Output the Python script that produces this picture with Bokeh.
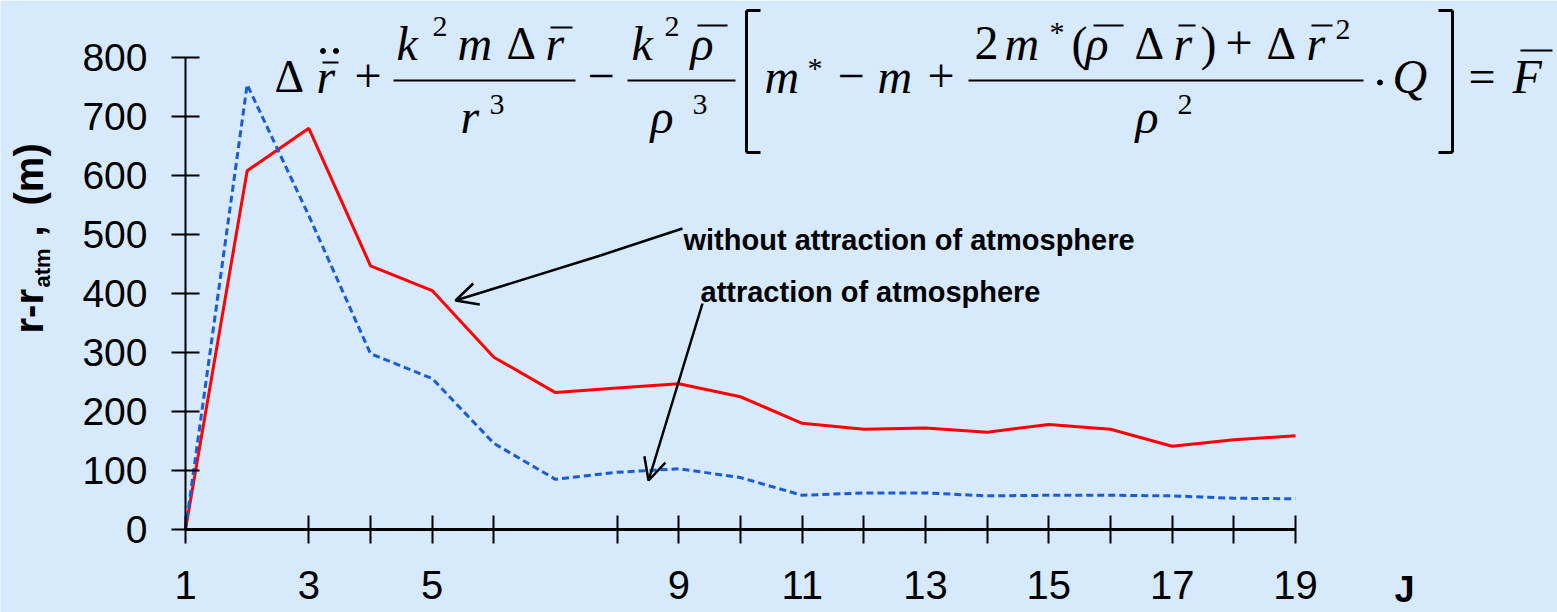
import math
from bokeh.plotting import figure
from bokeh.models import Range1d, FixedTicker, Arrow, OpenHead
from bokeh.core.properties import value
from bokeh.embed import file_html
from bokeh.resources import INLINE

# ---------------- data ----------------
J = list(range(1, 20))
without_attraction = [0, 608, 680, 447, 405, 292, 232, 240, 247, 225, 180, 170, 172, 165, 178, 170, 141, 152, 159]
with_attraction = [0, 754, 532, 298, 256, 146, 85, 97, 103, 88, 58, 62, 62, 57, 58, 58, 57, 53, 52]
x_ticks = [1, 3, 4, 5, 6, 8, 9, 10, 11, 12, 13, 14, 15, 16, 17, 18, 19]
x_tick_labels = {t: (str(t) if t % 2 == 1 else "") for t in x_ticks}
y_ticks = [0, 100, 200, 300, 400, 500, 600, 700, 800]

BG = "#D6E9FD"
SERIF = "Liberation Serif"
SANS = "Liberation Sans"
W, H = 1557, 612

# canvas-pixel -> data helpers
PXX = (1295 - 185) / 18.0
PXY = (529 - 57) / 800.0
def X(px):
    return 1 + (px - 185) / PXX
def Y(py):
    return (529 - py) / PXY

p = figure(width=W, height=H,
           x_range=Range1d(X(0), X(W)), y_range=Range1d(Y(H), Y(0)),
           output_backend="svg", toolbar_location=None,
           min_border=0, min_border_left=0, min_border_right=0,
           min_border_top=0, min_border_bottom=0)
p.background_fill_color = BG
p.border_fill_color = BG
p.outline_line_color = None
p.xgrid.visible = False
p.ygrid.visible = False

xa = p.xaxis[0]
xa.fixed_location = 0
xa.bounds = (1, 19)
xa.ticker = FixedTicker(ticks=x_ticks)
xa.major_label_overrides = x_tick_labels
xa.axis_line_width = 3
xa.axis_line_color = "black"
xa.major_tick_line_width = 2
xa.major_tick_in = 14
xa.major_tick_out = 14
xa.minor_tick_line_color = None
xa.major_label_text_font = SANS
xa.major_label_text_font_size = "40px"
xa.major_label_text_color = "black"
xa.major_label_standoff = 27

ya = p.yaxis[0]
ya.fixed_location = 1
ya.bounds = (0, 800)
ya.ticker = FixedTicker(ticks=y_ticks)
ya.axis_line_width = 2
ya.axis_line_color = "black"
ya.major_tick_line_width = 2
ya.major_tick_in = 14
ya.major_tick_out = 14
ya.minor_tick_line_color = None
ya.major_label_text_font = SANS
ya.major_label_text_font_size = "39px"
ya.major_label_text_color = "black"
ya.major_label_standoff = 24

# ---------------- series ----------------
p.line(J, without_attraction, line_color="#FF0000", line_width=3)
p.line(J, with_attraction, line_color="#1A5CD8", line_width=3, line_dash="7 4")

# ---------------- text helper (text glyphs) ----------------
K = 0.36  # baseline correction (fraction of font size)
def txt(s, px, py, size, font=SERIF, style="normal", angle=0.0):
    if angle:
        px = px - K * size
    else:
        py = py - K * size
    p.text(x=[X(px)], y=[Y(py)], text=[s], text_font=value(font),
           text_font_size=value(f"{size}px"), text_font_style=style,
           text_baseline="alphabetic", text_align="left",
           angle=angle, text_color="black")

# ---------------- y axis title (rotated, with subscript) ----------------
R = math.pi / 2
txt("r-r", 43, 333, 40, SANS, "bold", R)
txt("atm", 50, 287, 22, SANS, "bold", R)
txt(",", 43, 236, 40, SANS, "bold", R)
txt("(m)", 43, 205, 40, SANS, "bold", R)

# x axis title
txt("J", 1394, 602, 36, SANS, "bold")

# ---------------- annotations ----------------
txt("without attraction of  atmosphere", 683, 250, 29, SANS, "bold")
txt("attraction of atmosphere", 700, 302, 29, SANS, "bold")

p.line([X(682), X(600)], [Y(228), Y(255)], line_color="black", line_width=2.5)
p.add_layout(Arrow(end=OpenHead(size=22, line_width=2.5, line_color="black"),
                   x_start=X(600), y_start=Y(255), x_end=X(455), y_end=Y(300),
                   line_color="black", line_width=2.5))
p.add_layout(Arrow(end=OpenHead(size=22, line_width=2.5, line_color="black"),
                   x_start=X(702), y_start=Y(303), x_end=X(648), y_end=Y(480),
                   line_color="black", line_width=2.5))

# ---------------- equation ----------------
M, D, S = 48, 46, 30
eq = [
    ("\u0394", 274, 93, D, "normal"), ("r", 316, 93, M, "italic"), ("+", 354, 93, M, "normal"),
    ("k", 396, 60, M, "italic"), ("2", 432, 37, S, "normal"), ("m", 457, 60, M, "italic"),
    ("\u0394", 506, 60, D, "normal"), ("r", 545, 60, M, "italic"),
    ("r", 460, 133, M, "italic"), ("3", 489, 115, S, "normal"),
    ("\u2212", 587, 93, M, "normal"),
    ("k", 631, 60, M, "italic"), ("2", 664, 37, S, "normal"), ("\u03c1", 690, 60, M, "italic"),
    ("\u03c1", 650, 133, M, "italic"), ("3", 692, 115, S, "normal"),
    ("m", 764, 93, M, "italic"), ("*", 807, 78, S, "normal"), ("\u2212", 837, 93, M, "normal"),
    ("m", 877, 93, M, "italic"), ("+", 927, 93, M, "normal"),
    ("2", 974, 60, M, "normal"), ("m", 1004, 60, M, "italic"), ("*", 1049, 42, S, "normal"),
    ("(", 1071, 60, M, "normal"), ("\u03c1", 1085, 60, M, "italic"), ("\u0394", 1134, 60, D, "normal"),
    ("r", 1173, 60, M, "italic"), (")", 1200, 60, M, "normal"), ("+", 1225, 60, M, "normal"),
    ("\u0394", 1266, 60, D, "normal"), ("r", 1306, 60, M, "italic"), ("2", 1335, 40, S, "normal"),
    ("\u03c1", 1135, 133, M, "italic"), ("2", 1177, 115, S, "normal"),
    ("Q", 1392, 93, M, "italic"), ("=", 1468, 93, M, "normal"), ("F", 1512, 93, M, "italic"),
]
for s, px, py, size, style in eq:
    txt(s, px, py, size, SERIF, style)

thin = [((322, 62), (338, 62)), ((550, 27), (572, 27)), ((697, 25), (727, 25)),
        ((1093, 25), (1123, 25)), ((1178, 25), (1195, 25)), ((1311, 25), (1332, 25)),
        ((1520, 50), (1552, 50)),
        ((393, 80), (575, 80)), ((627, 80), (735, 80)), ((968, 80), (1363, 80))]
p.segment(x0=[X(a[0]) for a, b in thin], y0=[Y(a[1]) for a, b in thin],
          x1=[X(b[0]) for a, b in thin], y1=[Y(b[1]) for a, b in thin],
          line_color="black", line_width=2)
brk = [((746, 10), (746, 152)), ((746, 10), (760, 10)), ((746, 152), (760, 152)),
       ((1452, 10), (1452, 152)), ((1438, 10), (1452, 10)), ((1438, 152), (1452, 152))]
p.segment(x0=[X(a[0]) for a, b in brk], y0=[Y(a[1]) for a, b in brk],
          x1=[X(b[0]) for a, b in brk], y1=[Y(b[1]) for a, b in brk],
          line_color="black", line_width=3)
p.scatter(x=[X(322.5), X(335.5), X(1379.5)], y=[Y(50.5), Y(50.5), Y(82)],
          size=5, color="black")

open("out.html", "w").write(file_html(p, INLINE))
